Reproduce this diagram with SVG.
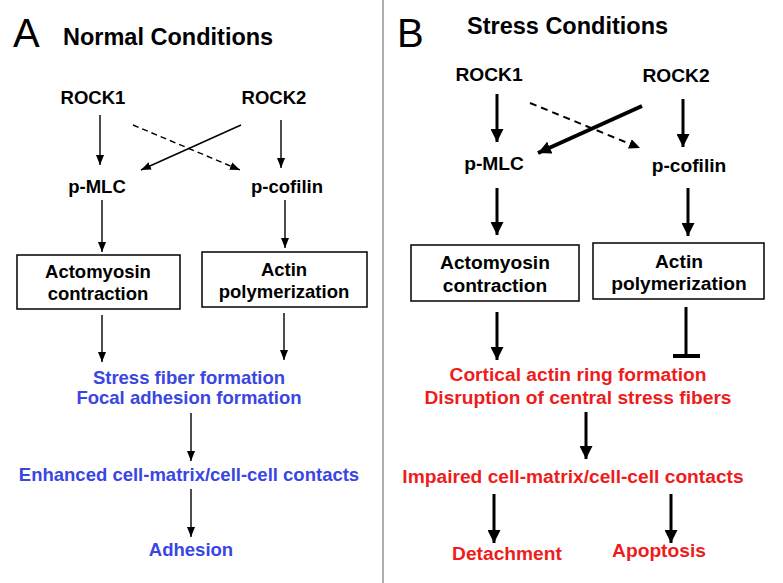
<svg xmlns="http://www.w3.org/2000/svg" width="783" height="583" viewBox="0 0 783 583">
<defs>
<style>
text{font-family:"Liberation Sans",Arial,sans-serif;font-weight:bold;font-size:18.5px;fill:#000;text-anchor:middle}
.bt text{font-size:19.2px}
.panel{font-weight:normal;font-size:40px;text-anchor:start}
.title{font-size:23.5px;text-anchor:start}
.blue{fill:#3a46e2}
.red{fill:#ee1c1c}
.box{fill:#fff;stroke:#000;stroke-width:1.5}
.a{stroke:#000;stroke-width:1.4;fill:none;marker-end:url(#ha)}
.ad{stroke:#000;stroke-width:1.4;fill:none;stroke-dasharray:6 4;marker-end:url(#ha)}
.b{stroke:#000;stroke-width:3;fill:none;marker-end:url(#hb)}
.bd{stroke:#000;stroke-width:2;fill:none;stroke-dasharray:7 5;marker-end:url(#hbd)}
</style>
<marker id="ha" markerUnits="userSpaceOnUse" markerWidth="10" markerHeight="8" refX="10" refY="4" orient="auto"><path d="M0,0 L10,4 L0,8 z" fill="#000"/></marker>
<marker id="hb" markerUnits="userSpaceOnUse" markerWidth="13" markerHeight="13" refX="13" refY="6.5" orient="auto"><path d="M0,0 L13,6.5 L0,13 z" fill="#000"/></marker>
<marker id="hbd" markerUnits="userSpaceOnUse" markerWidth="11" markerHeight="10" refX="11" refY="5" orient="auto"><path d="M0,0 L11,5 L0,10 z" fill="#000"/></marker>
</defs>
<rect width="783" height="583" fill="#fff"/>
<line x1="383" y1="0" x2="383" y2="583" stroke="#9a9a9a" stroke-width="1.6"/>

<g id="panelA">
<text class="panel" x="13" y="47">A</text>
<text class="title" x="63" y="45">Normal Conditions</text>
</g>
<g id="A-rock1"><text x="93" y="104">ROCK1</text></g>
<g id="A-rock2"><text x="274" y="104">ROCK2</text></g>
<g id="A-pmlc"><text x="97" y="193">p-MLC</text></g>
<g id="A-pcofilin"><text x="287" y="193">p-cofilin</text></g>
<g id="A-actomyosin"><rect class="box" x="17" y="255" width="163" height="54"/><text x="98" y="278">Actomyosin</text><text x="98" y="300">contraction</text></g>
<g id="A-actin"><rect class="box" x="202" y="252" width="165" height="55"/><text x="284" y="276">Actin</text><text x="284" y="298">polymerization</text></g>
<g id="A-stress"><text class="blue" x="189" y="384">Stress fiber formation</text><text class="blue" x="189" y="404">Focal adhesion formation</text></g>
<g id="A-enhanced"><text class="blue" x="189" y="481">Enhanced cell-matrix/cell-cell contacts</text></g>
<g id="A-adhesion"><text class="blue" x="191" y="556">Adhesion</text></g>

<g id="panelB">
<text class="panel" x="397" y="47">B</text>
<text class="title" x="467" y="34">Stress Conditions</text>
</g>
<g class="bt">
<g id="B-rock1"><text x="489" y="81">ROCK1</text></g>
<g id="B-rock2"><text x="676" y="82">ROCK2</text></g>
<g id="B-pmlc"><text x="494" y="170">p-MLC</text></g>
<g id="B-pcofilin"><text x="689" y="172">p-cofilin</text></g>
<g id="B-actomyosin"><rect class="box" x="411" y="245" width="168" height="56"/><text x="495" y="269">Actomyosin</text><text x="495" y="292">contraction</text></g>
<g id="B-actin"><rect class="box" x="593" y="243" width="171" height="56"/><text x="679" y="268">Actin</text><text x="679" y="290">polymerization</text></g>
<g id="B-cortical"><text class="red" x="578" y="381">Cortical actin ring formation</text><text class="red" x="578" y="404">Disruption of central stress fibers</text></g>
<g id="B-impaired"><text class="red" x="573" y="483">Impaired cell-matrix/cell-cell contacts</text></g>
<g id="B-detachment"><text class="red" x="507" y="560">Detachment</text></g>
<g id="B-apoptosis"><text class="red" x="659" y="557">Apoptosis</text></g>
</g>

<g id="connectors">
<line class="a" x1="100" y1="115" x2="100" y2="165"/>
<line class="a" x1="281" y1="120" x2="281" y2="168"/>
<line class="ad" x1="133" y1="125" x2="240" y2="170"/>
<line class="a" x1="241" y1="125" x2="141" y2="170"/>
<line class="a" x1="102" y1="200" x2="102" y2="252"/>
<line class="a" x1="285" y1="200" x2="285" y2="248"/>
<line class="a" x1="102" y1="315" x2="102" y2="362"/>
<line class="a" x1="284" y1="313" x2="284" y2="360"/>
<line class="a" x1="191" y1="413" x2="191" y2="461"/>
<line class="a" x1="191" y1="489" x2="191" y2="537"/>

<line class="b" x1="497" y1="94" x2="497" y2="142"/>
<line class="b" x1="683" y1="99" x2="683" y2="147"/>
<line class="bd" x1="530" y1="103" x2="640" y2="148"/>
<line class="b" x1="642" y1="106" x2="538" y2="153" style="stroke-width:4"/>
<line class="b" x1="497" y1="188" x2="497" y2="235"/>
<line class="b" x1="688" y1="188" x2="688" y2="236"/>
<line class="b" x1="497" y1="312" x2="497" y2="360"/>
<line x1="686" y1="307" x2="686" y2="355" stroke="#000" stroke-width="3"/>
<line x1="673" y1="356" x2="700" y2="356" stroke="#000" stroke-width="4"/>
<line class="b" x1="586" y1="412" x2="586" y2="459"/>
<line class="b" x1="494" y1="494" x2="494" y2="543"/>
<line class="b" x1="671" y1="494" x2="671" y2="543"/>
</g>
</svg>
